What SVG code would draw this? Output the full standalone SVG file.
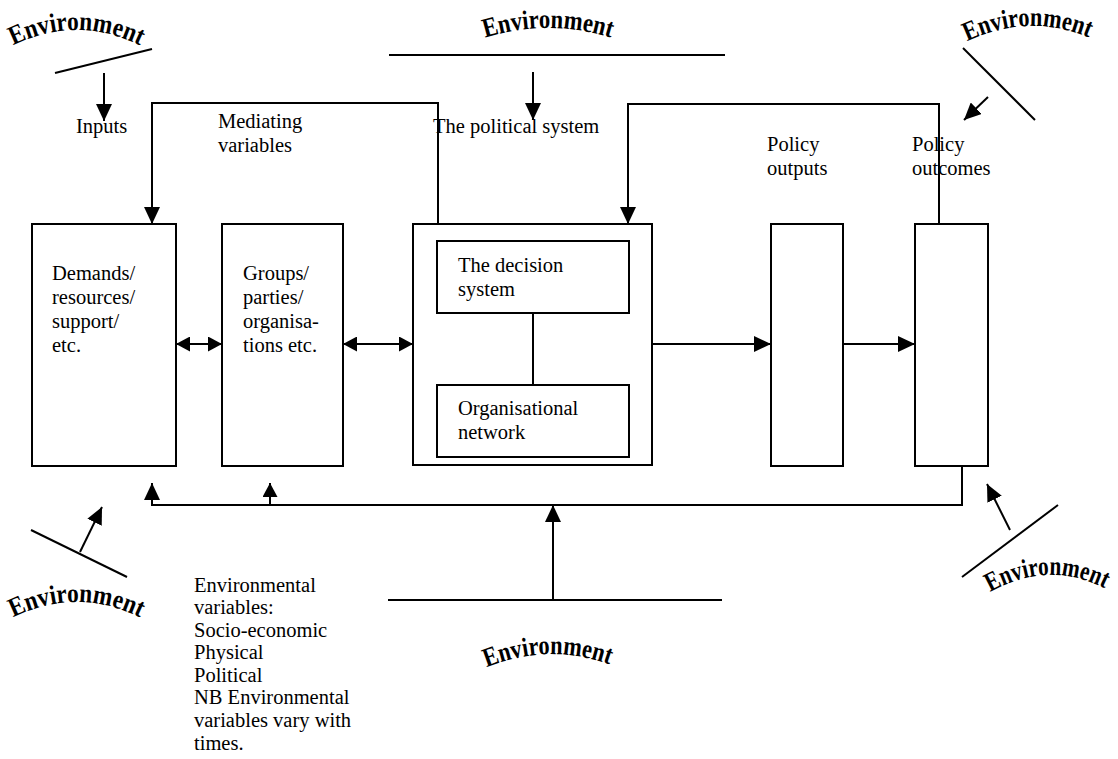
<svg xmlns="http://www.w3.org/2000/svg" width="1118" height="759" viewBox="0 0 1118 759">
  <style>
    .box { fill: #fff; stroke: #000; stroke-width: 2; }
    .ln { fill: none; stroke: #000; stroke-width: 2; }
    .lbl { font-family: "Liberation Serif", "Times New Roman", serif; font-size: 20.5px; fill: #000; }
    .env { font-family: "Liberation Serif", "Times New Roman", serif; font-size: 27px; font-weight: bold; fill: #000; }
  </style>
  <defs>
    <marker id="head" markerUnits="userSpaceOnUse" markerWidth="17" markerHeight="16" viewBox="0 0 17 16" refX="17" refY="8" orient="auto-start-reverse">
      <path d="M0,0 L17,8 L0,16 z" fill="#000"/>
    </marker>
    <marker id="headS" markerUnits="userSpaceOnUse" markerWidth="14" markerHeight="15" viewBox="0 0 14 15" refX="14" refY="7.5" orient="auto-start-reverse">
      <path d="M0,0 L14,7.5 L0,15 z" fill="#000"/>
    </marker>
    <!-- arched baselines for the Environment word-art -->
    <path id="arcTL" d="M 12,46 Q 76,14 141,46"/>
    <path id="arcTC" d="M 484,38 Q 548,18 612,38"/>
    <path id="arcTR" d="M 966,42 Q 1028,12 1090,38"/>
    <path id="arcBL" d="M 12,618 Q 76,586 141,618"/>
    <path id="arcBC" d="M 485,668 Q 548,642 611,665"/>
    <path id="arcBR" d="M 987,594 Q 1048,558 1108,590"/>
  </defs>
  <rect width="1118" height="759" fill="#fff"/>

  <!-- Environment labels and their boundary lines -->
  <g id="environment">
    <text class="env"><textPath href="#arcTL" startOffset="50%" text-anchor="middle" textLength="132" lengthAdjust="spacingAndGlyphs">Environment</textPath></text>
    <text class="env"><textPath href="#arcTC" startOffset="50%" text-anchor="middle" textLength="128" lengthAdjust="spacingAndGlyphs">Environment</textPath></text>
    <text class="env"><textPath href="#arcTR" startOffset="50%" text-anchor="middle" textLength="126" lengthAdjust="spacingAndGlyphs">Environment</textPath></text>
    <text class="env"><textPath href="#arcBL" startOffset="50%" text-anchor="middle" textLength="132" lengthAdjust="spacingAndGlyphs">Environment</textPath></text>
    <text class="env"><textPath href="#arcBC" startOffset="50%" text-anchor="middle" textLength="126" lengthAdjust="spacingAndGlyphs">Environment</textPath></text>
    <text class="env"><textPath href="#arcBR" startOffset="50%" text-anchor="middle" textLength="120" lengthAdjust="spacingAndGlyphs">Environment</textPath></text>
    <line class="ln" x1="55" y1="73" x2="152" y2="49"/>
    <line class="ln" x1="389" y1="55" x2="725" y2="55"/>
    <line class="ln" x1="963" y1="48" x2="1035" y2="120"/>
    <line class="ln" x1="31" y1="530" x2="127" y2="577"/>
    <line class="ln" x1="388" y1="600" x2="722" y2="600"/>
    <line class="ln" x1="962" y1="577" x2="1058" y2="505"/>
  </g>

  <!-- stage headings -->
  <g id="headings" class="lbl">
    <text x="76" y="133">Inputs</text>
    <text x="218" y="128">Mediating</text>
    <text x="218" y="152">variables</text>
    <text x="433" y="133">The political system</text>
    <text x="767" y="151">Policy</text>
    <text x="767" y="175">outputs</text>
    <text x="912" y="151">Policy</text>
    <text x="912" y="175">outcomes</text>
  </g>

  <g id="inputs">
    <rect class="box" x="32" y="224" width="144" height="242"/>
    <text class="lbl" x="52" y="280">Demands/</text>
    <text class="lbl" x="52" y="304">resources/</text>
    <text class="lbl" x="52" y="328">support/</text>
    <text class="lbl" x="52" y="352">etc.</text>
  </g>

  <g id="mediating">
    <rect class="box" x="222" y="224" width="121" height="242"/>
    <text class="lbl" x="243" y="280">Groups/</text>
    <text class="lbl" x="243" y="304">parties/</text>
    <text class="lbl" x="243" y="328">organisa-</text>
    <text class="lbl" x="243" y="352">tions etc.</text>
  </g>

  <g id="political-system">
    <rect class="box" x="413" y="224" width="239" height="241"/>
    <rect class="box" x="437" y="241" width="192" height="72"/>
    <text class="lbl" x="458" y="272">The decision</text>
    <text class="lbl" x="458" y="296">system</text>
    <line class="ln" x1="533" y1="313" x2="533" y2="385"/>
    <rect class="box" x="437" y="385" width="192" height="72"/>
    <text class="lbl" x="458" y="415">Organisational</text>
    <text class="lbl" x="458" y="439">network</text>
  </g>

  <g id="policy-outputs">
    <rect class="box" x="771" y="224" width="72" height="242"/>
  </g>

  <g id="policy-outcomes">
    <rect class="box" x="915" y="224" width="73" height="242"/>
  </g>

  <g id="bottom-note" class="lbl">
    <text x="194" y="592">Environmental</text>
    <text x="194" y="614">variables:</text>
    <text x="194" y="637">Socio-economic</text>
    <text x="194" y="659">Physical</text>
    <text x="194" y="682">Political</text>
    <text x="194" y="704">NB Environmental</text>
    <text x="194" y="727">variables vary with</text>
    <text x="194" y="750">times.</text>
  </g>

  <g id="connectors">
    <!-- environmental influences -->
    <line class="ln" x1="104" y1="73" x2="104" y2="121" marker-end="url(#head)"/>
    <line class="ln" x1="533" y1="72" x2="533" y2="120" marker-end="url(#head)"/>
    <line class="ln" x1="988" y1="97" x2="964" y2="120" marker-end="url(#head)"/>
    <line class="ln" x1="80" y1="552" x2="102" y2="507" marker-end="url(#head)"/>
    <line class="ln" x1="1010" y1="530" x2="987" y2="484" marker-end="url(#head)"/>
    <line class="ln" x1="553" y1="600" x2="553" y2="505" marker-end="url(#head)"/>
    <!-- main flow -->
    <line class="ln" x1="176" y1="344" x2="222" y2="344" marker-start="url(#headS)" marker-end="url(#headS)"/>
    <line class="ln" x1="343" y1="344" x2="413" y2="344" marker-start="url(#headS)" marker-end="url(#headS)"/>
    <line class="ln" x1="652" y1="344" x2="771" y2="344" marker-end="url(#head)"/>
    <line class="ln" x1="843" y1="344" x2="915" y2="344" marker-end="url(#head)"/>
    <!-- feedback loops -->
    <path class="ln" d="M 438,224 V 103 H 152 V 224" marker-end="url(#head)"/>
    <path class="ln" d="M 939,224 V 104 H 628 V 224" marker-end="url(#head)"/>
    <path class="ln" d="M 962,466 V 505 H 152 V 483" marker-end="url(#head)"/>
    <line class="ln" x1="270" y1="505" x2="270" y2="483" marker-end="url(#headS)"/>
  </g>
</svg>
